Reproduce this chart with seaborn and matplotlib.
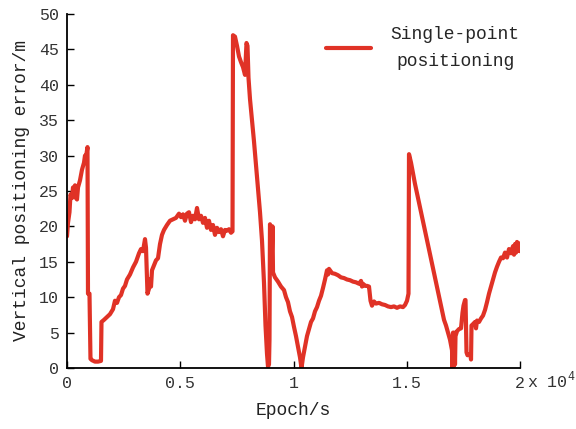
import matplotlib
matplotlib.use("Agg")
import matplotlib.pyplot as plt
import seaborn as sns
import pandas as pd
from matplotlib.ticker import FuncFormatter, MultipleLocator

epoch = [0, 44, 110, 155, 221, 265, 309, 353, 397, 442, 486, 574, 662, 751, 795, 839, 905,
         927, 993, 1037, 1104, 1236, 1369, 1501, 1523, 1634, 1766, 1898, 2031, 2119, 2208,
         2296, 2384, 2472, 2561, 2649, 2781, 2914, 3046, 3179, 3267, 3355, 3444, 3488, 3554,
         3620, 3664, 3709, 3753, 3841, 3929, 4018, 4106, 4194, 4283, 4415, 4547, 4680, 4812,
         4945, 5033, 5121, 5210, 5298, 5386, 5475, 5563, 5651, 5740, 5828, 5916, 6004, 6093,
         6181, 6269, 6358, 6446, 6534, 6623, 6711, 6799, 6887, 6976, 7064, 7152, 7241, 7307,
         7329, 7417, 7506, 7594, 7682, 7770, 7859, 7925, 7969, 8013, 8079, 8168, 8256, 8322,
         8389, 8455, 8521, 8609, 8698, 8764, 8830, 8874, 8918, 8940, 8962, 9007, 9029, 9073,
         9095, 9183, 9316, 9448, 9581, 9669, 9757, 9845, 9934, 10022, 10110, 10199, 10287,
         10353, 10419, 10508, 10596, 10684, 10773, 10861, 10949, 11038, 11126, 11214, 11302,
         11391, 11479, 11523, 11567, 11700, 11832, 11965, 12097, 12230, 12362, 12494, 12627,
         12759, 12892, 12980, 13024, 13068, 13157, 13245, 13333, 13400, 13466, 13554, 13642,
         13775, 13907, 14040, 14172, 14305, 14437, 14570, 14702, 14834, 14923, 15011, 15077,
         15099, 15188, 15276, 15364, 15497, 15629, 15762, 15894, 16026, 16159, 16291, 16424,
         16556, 16645, 16733, 16821, 16909, 16998, 17020, 17042, 17064, 17108, 17130, 17152,
         17219, 17307, 17395, 17461, 17505, 17572, 17594, 17638, 17682, 17748, 17815, 17837,
         17859, 17925, 18013, 18057, 18102, 18190, 18278, 18366, 18455, 18543, 18631, 18720,
         18808, 18896, 18984, 19073, 19161, 19249, 19337, 19426, 19514, 19602, 19690, 19735,
         19779, 19823, 19867, 19912, 19978, 20000]

error = [18.6, 20.5, 22, 24.5, 24, 25.5, 24.2, 25.8, 24, 23.8, 25.5, 26.5, 28, 29, 30, 29.8, 31.2,
         10.5, 10.5, 1.3, 1.1, 0.9, 0.9, 1.0, 6.5, 6.8, 7.2, 7.6, 8.3, 9.5, 9.2,
         10, 10.3, 11.2, 11.6, 12.5, 13.2, 14.2, 15, 16.2, 16.8, 16.5, 18.2, 17, 10.5,
         11.2, 12.5, 11.5, 13.8, 14.5, 15.2, 15.5, 17.5, 18.8, 19.5, 20.2, 20.8, 21, 21.2,
         21.8, 21.3, 21.7, 20.8, 21.8, 22, 20.6, 21.5, 21, 22.6, 21, 21.5, 20.5, 21.2,
         19.8, 20.8, 19.5, 20.2, 18.8, 19.8, 19.2, 19.6, 18.6, 19.5, 19.4, 19.6, 19.1, 19.3,
         47, 46.8, 45.5, 44, 43.2, 42.5, 41.4, 45.9, 45.5, 41, 38, 35, 32, 29.5,
         27, 24.5, 22, 18, 12, 6, 2, 0.2, 0.5, 4, 20.3, 19.5, 14, 20,
         13.5, 12.8, 12.2, 11.5, 11, 10, 9.3, 8, 7.2, 5.8, 4.5, 3, 1.5,
         0, 1.5, 3, 4.5, 5.5, 6.5, 7, 8, 8.6, 9.5, 10.2, 11.3,
         12.5, 13.8, 13.2, 14, 13.4, 13.3, 13.1, 12.8, 12.7, 12.5, 12.4, 12.2,
         12.1, 11.9, 12.3, 11.5, 11.9, 11.6, 11.6, 11.5, 9.5, 8.8, 9.4, 9.1,
         9.2, 9, 8.9, 8.7, 8.6, 8.7, 8.5, 8.7, 8.6, 8.9, 9.5, 10.5,
         30.2, 29, 27.5, 26, 24, 22, 20, 18, 16, 14, 12, 10,
         8, 6.8, 6, 5, 4, 2.5, 0, 5, 0.2, 5, 0.5, 4.5,
         5.2, 5.5, 5.6, 7.8, 8.8, 9.6, 9.6, 2.2, 1.8, 1.9, 1.8, 1.2,
         6, 6.2, 6.5, 5.6, 6.7, 6.5, 7, 7.4, 8.2, 9.3, 10.5, 11.5,
         12.5, 13.5, 14.3, 15, 15.6, 15.5, 16.3, 15.6, 16.8, 16.2, 17.2, 16,
         17.5, 16.3, 17.8, 16.6, 17.6, 16.5]

series_name = "Single-point\npositioning"
x_label = "Epoch/s"
y_label = "Vertical positioning error/m"

sns.set_style("ticks")
plt.rcParams['font.family'] = ['Liberation Mono', 'DejaVu Sans']
plt.rcParams['mathtext.fontset'] = 'custom'
plt.rcParams['mathtext.rm'] = 'Liberation Mono'

df = pd.DataFrame({"epoch": epoch, "error": error, "series": series_name})

fig = plt.figure(figsize=(5.76, 4.29), dpi=100)
ax = fig.add_axes([0.1163, 0.1422, 0.7865, 0.8252])

sns.lineplot(data=df, x="epoch", y="error", hue="series", palette=["#E03226"],
             sort=False, estimator=None, linewidth=3.0, ax=ax)

ax.set_xlim(0, 20000)
ax.set_ylim(0, 50)
ax.xaxis.set_major_locator(MultipleLocator(5000))
ax.yaxis.set_major_locator(MultipleLocator(5))
ax.xaxis.set_major_formatter(FuncFormatter(lambda v, p: f"{v/1e4:g}"))

for s in ["top", "right"]:
    ax.spines[s].set_visible(False)
for s in ["left", "bottom"]:
    ax.spines[s].set_linewidth(1.3)
    ax.spines[s].set_color("black")

ax.tick_params(direction="in", length=5, width=1.0, labelsize=12, colors="black",
               labelcolor="#333333", pad=6)
ax.set_xlabel(x_label, fontsize=13, labelpad=8, color="#222222")
ax.set_ylabel(y_label, fontsize=13, labelpad=6, color="#222222")

ax.text(1.015, -0.006, r"x 10$^4$", transform=ax.transAxes, fontsize=12,
        color="#333333", ha="left", va="top")

leg = ax.legend(frameon=False, loc="upper right", bbox_to_anchor=(1.035, 1.012),
                fontsize=13, handlelength=2.5, handletextpad=1.1)
for t in leg.get_texts():
    t.set_multialignment("center")
    t.set_linespacing(1.75)
for l in leg.get_lines():
    l.set_linewidth(3.0)

fig.savefig("out.png", dpi=100)
